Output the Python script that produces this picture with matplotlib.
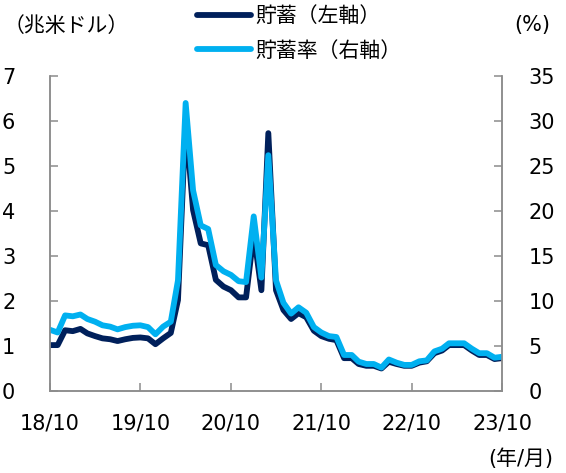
import matplotlib
matplotlib.use("Agg")
import matplotlib.pyplot as plt
import matplotlib.dates as mdates
import pandas as pd

# Datos (mensuales, 2018/10 - 2023/10)
fechas = pd.date_range("2018-10-01", "2023-10-01", freq="MS")
ahorro = [1.02, 1.02, 1.35, 1.33, 1.38, 1.28, 1.22, 1.17, 1.15, 1.11,
          1.15, 1.18, 1.19, 1.17, 1.04, 1.17, 1.29, 2.02, 6.0, 4.02,
          3.28, 3.24, 2.47, 2.32, 2.24, 2.08, 2.08, 3.5, 2.24, 5.73,
          2.24, 1.80, 1.60, 1.73, 1.64, 1.34, 1.22, 1.16, 1.13, 0.73,
          0.73, 0.60, 0.56, 0.56, 0.50, 0.65, 0.60, 0.56, 0.56, 0.63,
          0.66, 0.84, 0.90, 1.02, 1.02, 1.02, 0.90, 0.80, 0.80, 0.71,
          0.73]
tasa = [6.8, 6.5, 8.4, 8.3, 8.5, 8.0, 7.7, 7.3, 7.15, 6.85,
        7.1, 7.25, 7.3, 7.1, 6.3, 7.15, 7.7, 12.3, 32.0, 22.3,
        18.4, 18.0, 14.0, 13.3, 12.9, 12.2, 12.1, 19.4, 12.6, 26.2,
        12.3, 9.8, 8.6, 9.3, 8.7, 7.1, 6.5, 6.1, 6.0, 4.0,
        4.0, 3.26, 3.0, 3.0, 2.6, 3.5, 3.15, 2.9, 2.9, 3.3,
        3.4, 4.4, 4.7, 5.3, 5.3, 5.3, 4.7, 4.2, 4.2, 3.7,
        3.8]
ticks_izq = [0, 1, 2, 3, 4, 5, 6, 7]
ticks_der = [0, 5, 10, 15, 20, 25, 30, 35]

cor_escuro = "#00205B"
cor_claro = "#00B0F0"
cor_eixo = "#8C8C8C"
fonte_jp = ["Noto Sans CJK JP", "DejaVu Sans"]
fonte_mix = ["DejaVu Sans", "Noto Sans CJK JP"]

fig = plt.figure(figsize=(5.66, 4.73), dpi=100)
ax = fig.add_axes([50 / 566, 82 / 473, 452 / 566, 315 / 473])
ax2 = ax.twinx()

l1, = ax.plot(fechas, ahorro, color=cor_escuro, lw=4.2,
              solid_capstyle="round", solid_joinstyle="round", label="貯蓄（左軸）")
l2, = ax2.plot(fechas, tasa, color=cor_claro, lw=4.2,
               solid_capstyle="round", solid_joinstyle="round", label="貯蓄率（右軸）")

ax.set_xlim(fechas[0], fechas[-1])
ax.set_ylim(0, 7)
ax2.set_ylim(0, 35)
ax.set_yticks(ticks_izq)
ax2.set_yticks(ticks_der)

ax.xaxis.set_major_locator(mdates.MonthLocator(bymonth=10))
ax.xaxis.set_major_formatter(mdates.DateFormatter("%y/%m"))

for a in (ax, ax2):
    a.spines["top"].set_visible(False)
    for s in ("left", "right", "bottom"):
        a.spines[s].set_color(cor_eixo)
        a.spines[s].set_linewidth(1.1)

ax.tick_params(axis="y", direction="in", length=6, width=1.1, color=cor_eixo,
               labelsize=15, pad=25)
ax2.tick_params(axis="y", direction="in", length=6, width=1.1, color=cor_eixo,
                labelsize=15, pad=19)
ax.tick_params(axis="x", direction="in", length=6, width=1.1, color=cor_eixo,
               labelsize=15, pad=16)

# Rótulos das unidades
fig.text(4 / 566, 1 - 26 / 473, "（兆米ドル）", fontsize=15, family=fonte_jp,
         ha="left", va="center")
fig.text(514 / 566, 1 - 25 / 473, "(%)", fontsize=15, family=fonte_mix,
         ha="left", va="center")
fig.text(553 / 566, 1 - 459 / 473, "(年/月)", fontsize=15, family=fonte_mix,
         ha="right", va="center")

# Legenda
leg = fig.legend(handles=[l1, l2], loc="upper left",
                 bbox_to_anchor=(197 / 566, 1 - 5 / 473), frameon=False,
                 prop={"family": fonte_jp, "size": 15},
                 handlelength=2.6, handletextpad=0.2, labelspacing=0.6,
                 borderaxespad=0.0, borderpad=0.0)

fig.savefig("out.png", dpi=100)
